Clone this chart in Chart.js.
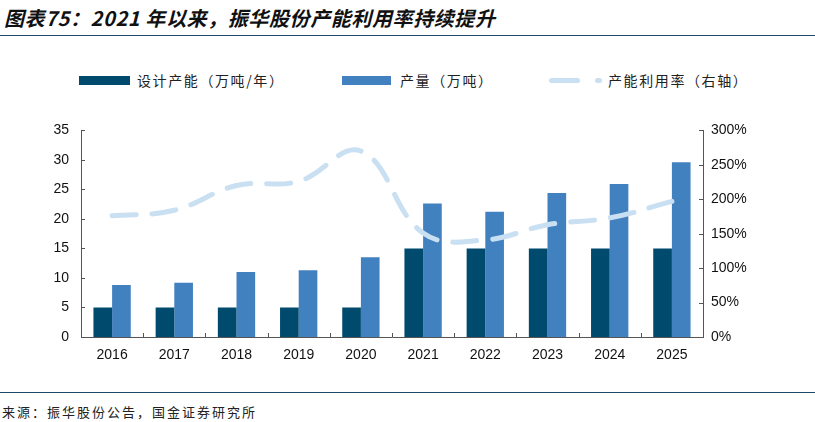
<!DOCTYPE html>
<html>
<head>
<meta charset="utf-8">
<script src="https://cdn.jsdelivr.net/npm/chart.js@4/dist/chart.umd.min.js"></script>
<style>
  body { margin: 0; background: #fff; width: 815px; height: 422px; position: relative; overflow: hidden; font-family: "Noto Sans CJK SC", sans-serif; }
  .title { position: absolute; left: 4px; top: 3px; font-size: 20px; font-weight: bold; font-style: italic; color: #111; letter-spacing: 0.6px; }
  .rule { position: absolute; left: 0; width: 815px; height: 1px; background: #1c4a66; }
  .legend { position: absolute; top: 70px; font-size: 14px; color: #222; display: flex; align-items: center; letter-spacing: 1.6px; }
  .box { display: inline-block; width: 51px; height: 9px; margin-right: 7px; }
  .src { position: absolute; left: 2px; top: 402px; font-size: 13px; color: #222; letter-spacing: 2px; }
  #wrap { position: absolute; left: 0; top: 110px; width: 815px; height: 265px; }
</style>
</head>
<body>
<div class="title">图表75：2021 年以来，振华股份产能利用率持续提升</div>
<div class="rule" style="top:35px"></div>

<div class="legend" style="left:79px"><span class="box" style="background:#004a6e"></span>设计产能（万吨/年）</div>
<div class="legend" style="left:342px"><span class="box" style="background:#4281c0;width:49px;margin-right:9px"></span>产量（万吨）</div>
<div class="legend" style="left:549px">
  <span style="display:inline-block;width:31px;height:5px;border-radius:3px;background:#c9dff2;margin-right:15px"></span>
  <span style="display:inline-block;width:7px;height:5px;border-radius:3px;background:#c9dff2;margin-right:6px"></span>产能利用率（右轴）
</div>

<div id="wrap"><canvas id="chart"></canvas></div>

<div class="rule" style="top:392px"></div>
<div class="src">来源：振华股份公告，国金证券研究所</div>

<script>
const years = ["2016", "2017", "2018", "2019", "2020", "2021", "2022", "2023", "2024", "2025"];
const capacity = [5, 5, 5, 5, 5, 15, 15, 15, 15, 15];
const output = [8.8, 9.2, 11.0, 11.3, 13.5, 22.6, 21.2, 24.4, 25.9, 29.6];
const utilization = [176, 184, 220, 226, 270, 151, 141, 163, 173, 197];

const tickFont = { family: "'Liberation Sans', Arial, sans-serif", size: 14 };
const axisColor = "#555";

// inward tick marks like the original
const innerTicks = {
  id: "innerTicks",
  afterDraw(chart) {
    const ctx = chart.ctx;
    const a = chart.chartArea;
    ctx.save();
    ctx.strokeStyle = axisColor;
    ctx.lineWidth = 1;
    ctx.beginPath();
    chart.scales.y.ticks.forEach((t, i) => {
      const y = Math.round(chart.scales.y.getPixelForTick(i)) + 0.5;
      ctx.moveTo(a.left, y); ctx.lineTo(a.left + 4, y);
    });
    chart.scales.y1.ticks.forEach((t, i) => {
      const y = Math.round(chart.scales.y1.getPixelForTick(i)) + 0.5;
      ctx.moveTo(a.right, y); ctx.lineTo(a.right - 4, y);
    });
    const step = (a.right - a.left) / years.length;
    for (let i = 1; i < years.length; i++) {
      const x = Math.round(a.left + step * i) + 0.5;
      ctx.moveTo(x, a.bottom); ctx.lineTo(x, a.bottom - 4);
    }
    ctx.stroke();
    ctx.restore();
  }
};

new Chart(document.getElementById("chart"), {
  data: {
    labels: years,
    datasets: [
      {
        type: "line",
        label: "产能利用率（右轴）",
        data: utilization,
        yAxisID: "y1",
        borderColor: "#c9dff2",
        borderWidth: 5,
        borderDash: [24, 16],
        borderCapStyle: "round",
        pointRadius: 0,
        tension: 0.4,
        fill: false,
        order: 0
      },
      {
        type: "bar",
        label: "设计产能（万吨/年）",
        data: capacity,
        yAxisID: "y",
        backgroundColor: "#004a6e",
        categoryPercentage: 0.6,
        barPercentage: 1.0,
        order: 1
      },
      {
        type: "bar",
        label: "产量（万吨）",
        data: output,
        yAxisID: "y",
        backgroundColor: "#4281c0",
        categoryPercentage: 0.6,
        barPercentage: 1.0,
        order: 1
      }
    ]
  },
  options: {
    responsive: true,
    maintainAspectRatio: false,
    animation: false,
    layout: { padding: { top: 19, left: 0, right: 0, bottom: 0 } },
    plugins: { legend: { display: false }, tooltip: { enabled: false } },
    scales: {
      x: {
        grid: { display: false, drawTicks: false },
        border: { color: axisColor, width: 1 },
        ticks: { font: tickFont, color: "#111", padding: 10 },
        afterFit(s) { s.height = 38; }
      },
      y: {
        position: "left",
        min: 0, max: 35,
        ticks: { stepSize: 5, font: tickFont, color: "#111", padding: 12 },
        grid: { display: false, drawTicks: false },
        border: { color: axisColor, width: 1 },
        afterFit(s) { s.width = 81; }
      },
      y1: {
        position: "right",
        min: 0, max: 300,
        ticks: { stepSize: 50, font: tickFont, color: "#111", padding: 8, callback: v => v + "%" },
        grid: { display: false, drawTicks: false },
        border: { color: axisColor, width: 1 },
        afterFit(s) { s.width = 112; }
      }
    }
  },
  plugins: [innerTicks]
});
</script>
</body>
</html>
